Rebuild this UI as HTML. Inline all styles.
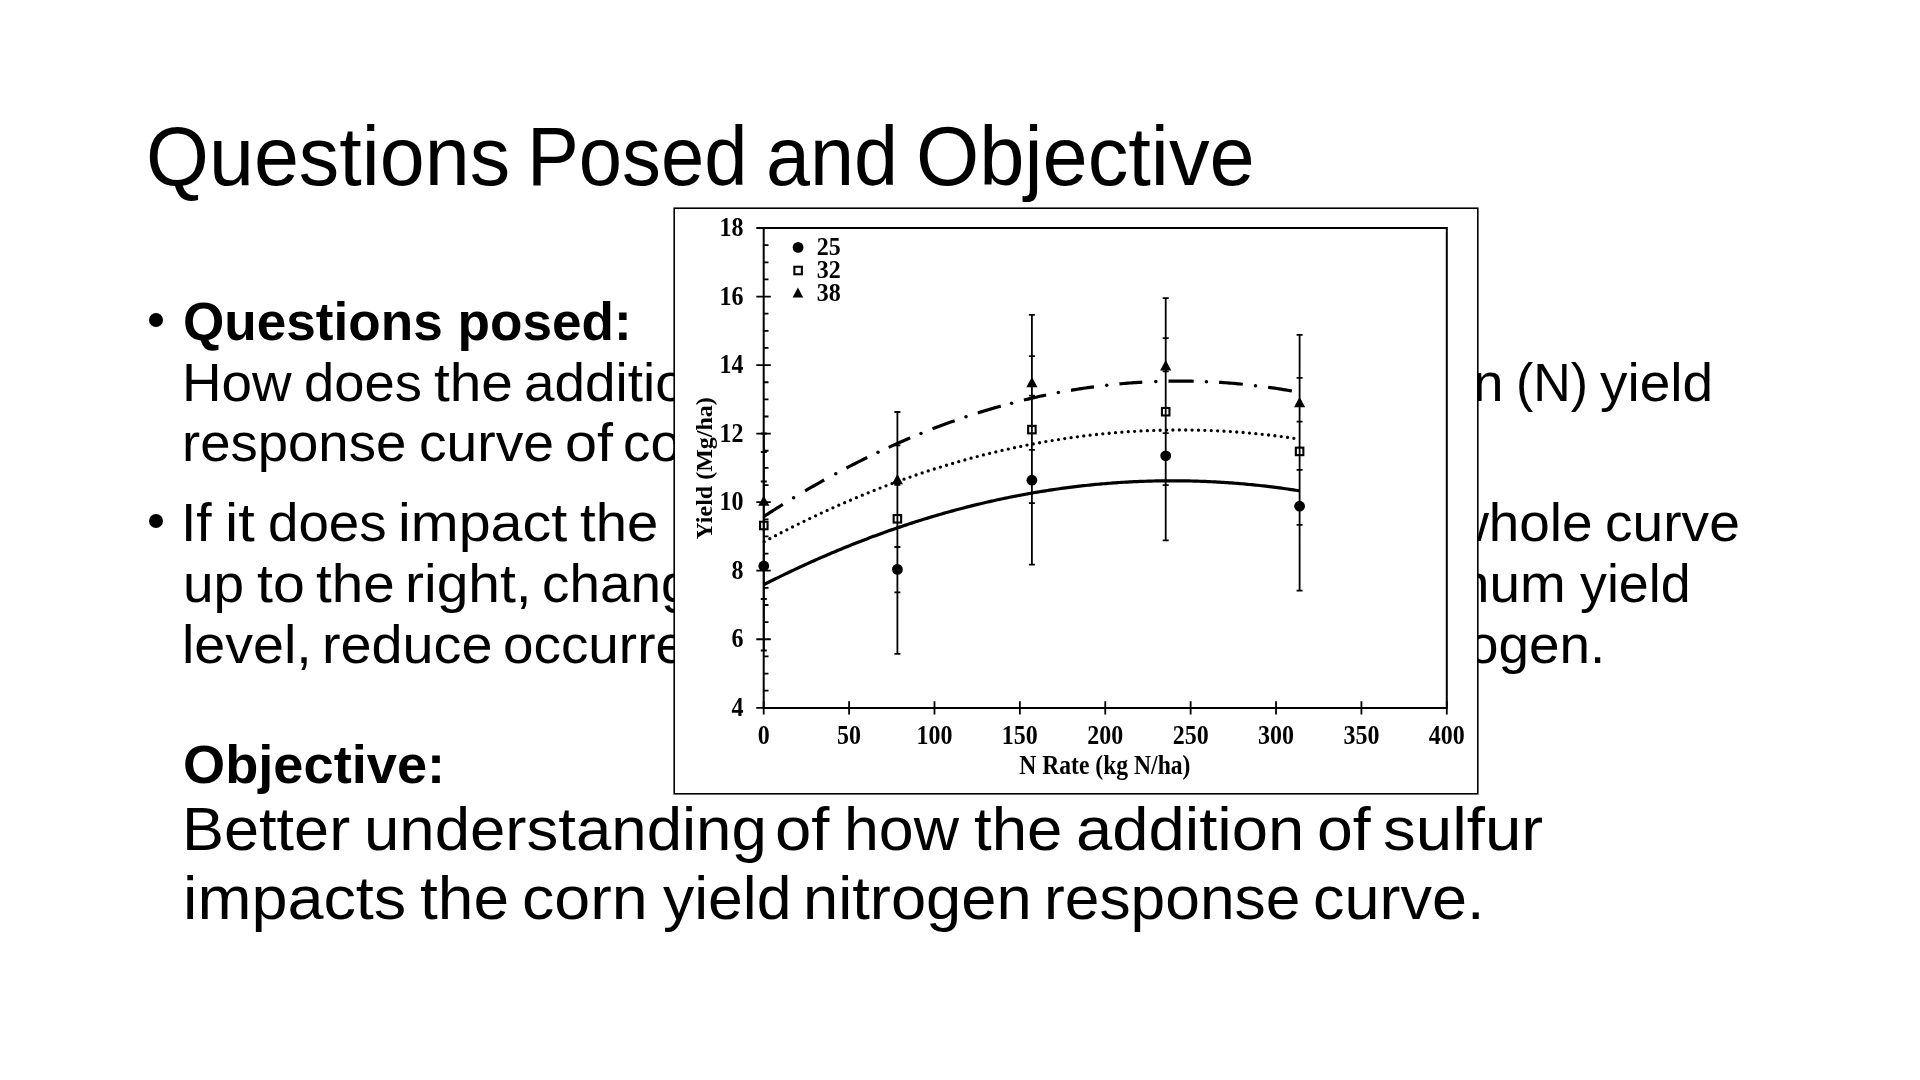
<!DOCTYPE html>
<html><head><meta charset="utf-8"><style>
html,body{margin:0;padding:0;background:#fff;}
body{width:1920px;height:1080px;position:relative;overflow:hidden;}
.t{position:absolute;white-space:pre;line-height:1;color:#000;font-family:"Liberation Sans",sans-serif;}
.b{position:absolute;width:14.2px;height:14.2px;border-radius:50%;background:#000;}
svg{position:absolute;left:0;top:0;will-change:transform;}
</style></head><body>
<div class="t" style="left:145.95px;transform-origin:0 0;top:113.99px;font-size:84px;font-weight:400;transform:scaleX(0.9628)">Questions</div>
<div class="t" style="left:527.32px;transform-origin:0 0;top:113.99px;font-size:84px;font-weight:400;transform:scaleX(0.9257)">Posed</div>
<div class="t" style="left:765.73px;transform-origin:0 0;top:113.99px;font-size:84px;font-weight:400;transform:scaleX(0.9427)">and</div>
<div class="t" style="left:916.13px;transform-origin:0 0;top:113.99px;font-size:84px;font-weight:400;transform:scaleX(0.9673)">Objective</div>
<div class="t" style="left:182.70px;transform-origin:0 0;top:295.14px;font-size:53px;font-weight:700;transform:scaleX(1.0023)">Questions posed:</div>
<div class="t" style="left:182.36px;transform-origin:0 0;top:355.94px;font-size:53px;font-weight:400;transform:scaleX(1.0343)">How</div>
<div class="t" style="left:304.25px;transform-origin:0 0;top:355.94px;font-size:53px;font-weight:400;transform:scaleX(1.0252)">does</div>
<div class="t" style="left:434.13px;transform-origin:0 0;top:355.94px;font-size:53px;font-weight:400;transform:scaleX(1.0714)">the</div>
<div class="t" style="left:524.33px;transform-origin:0 0;top:355.94px;font-size:53px;font-weight:400;transform:scaleX(1.0350)">addition</div>
<div class="t" style="right:416.05px;transform-origin:100% 0;top:355.94px;font-size:53px;font-weight:400;transform:scaleX(1.0350)">nitrogen</div>
<div class="t" style="left:1515.96px;transform-origin:0 0;top:355.94px;font-size:53px;font-weight:400;transform:scaleX(0.9791)">(N)</div>
<div class="t" style="left:1599.50px;transform-origin:0 0;top:355.94px;font-size:53px;font-weight:400;transform:scaleX(1.0377)">yield</div>
<div class="t" style="left:182.39px;transform-origin:0 0;top:416.44px;font-size:53px;font-weight:400;transform:scaleX(1.0283)">response</div>
<div class="t" style="left:418.82px;transform-origin:0 0;top:416.44px;font-size:53px;font-weight:400;transform:scaleX(1.0416)">curve</div>
<div class="t" style="left:564.53px;transform-origin:0 0;top:416.44px;font-size:53px;font-weight:400;transform:scaleX(1.0857)">of</div>
<div class="t" style="left:623.23px;transform-origin:0 0;top:416.44px;font-size:53px;font-weight:400;transform:scaleX(1.0350)">corn?</div>
<div class="t" style="left:181.28px;transform-origin:0 0;top:496.44px;font-size:53px;font-weight:400;transform:scaleX(1.0440)">If</div>
<div class="t" style="left:224.80px;transform-origin:0 0;top:496.44px;font-size:53px;font-weight:400;transform:scaleX(1.1200)">it</div>
<div class="t" style="left:267.74px;transform-origin:0 0;top:496.44px;font-size:53px;font-weight:400;transform:scaleX(1.0324)">does</div>
<div class="t" style="left:397.56px;transform-origin:0 0;top:496.44px;font-size:53px;font-weight:400;transform:scaleX(1.0842)">impact</div>
<div class="t" style="left:579.94px;transform-origin:0 0;top:496.44px;font-size:53px;font-weight:400;transform:scaleX(1.0614)">the</div>
<div class="t" style="right:327.13px;transform-origin:100% 0;top:496.44px;font-size:53px;font-weight:400;transform:scaleX(1.0350)">whole</div>
<div class="t" style="left:1604.92px;transform-origin:0 0;top:496.44px;font-size:53px;font-weight:400;transform:scaleX(1.0400)">curve</div>
<div class="t" style="left:183.39px;transform-origin:0 0;top:556.84px;font-size:53px;font-weight:400;transform:scaleX(1.0370)">up</div>
<div class="t" style="left:257.02px;transform-origin:0 0;top:556.84px;font-size:53px;font-weight:400;transform:scaleX(1.0805)">to</div>
<div class="t" style="left:316.43px;transform-origin:0 0;top:556.84px;font-size:53px;font-weight:400;transform:scaleX(1.0671)">the</div>
<div class="t" style="left:404.90px;transform-origin:0 0;top:556.84px;font-size:53px;font-weight:400;transform:scaleX(1.0752)">right,</div>
<div class="t" style="left:542.03px;transform-origin:0 0;top:556.84px;font-size:53px;font-weight:400;transform:scaleX(1.0350)">change</div>
<div class="t" style="right:354.18px;transform-origin:100% 0;top:556.84px;font-size:53px;font-weight:400;transform:scaleX(1.0350)">maximum</div>
<div class="t" style="left:1580.00px;transform-origin:0 0;top:556.84px;font-size:53px;font-weight:400;transform:scaleX(1.0142)">yield</div>
<div class="t" style="left:182.31px;transform-origin:0 0;top:617.64px;font-size:53px;font-weight:400;transform:scaleX(1.0487)">level,</div>
<div class="t" style="left:321.59px;transform-origin:0 0;top:617.64px;font-size:53px;font-weight:400;transform:scaleX(1.0519)">reduce</div>
<div class="t" style="left:503.43px;transform-origin:0 0;top:617.64px;font-size:53px;font-weight:400;transform:scaleX(1.0350)">occurrence</div>
<div class="t" style="right:314.85px;transform-origin:100% 0;top:617.64px;font-size:53px;font-weight:400;transform:scaleX(1.0350)">nitrogen.</div>
<div class="t" style="left:183.15px;transform-origin:0 0;top:738.04px;font-size:53px;font-weight:700;transform:scaleX(1.0229)">Objective:</div>
<div class="t" style="left:181.93px;transform-origin:0 0;top:798.76px;font-size:61px;font-weight:400;transform:scaleX(1.0331)">Better</div>
<div class="t" style="left:363.53px;transform-origin:0 0;top:798.76px;font-size:61px;font-weight:400;transform:scaleX(1.0417)">understanding</div>
<div class="t" style="left:775.19px;transform-origin:0 0;top:798.76px;font-size:61px;font-weight:400;transform:scaleX(1.0708)">of</div>
<div class="t" style="left:844.09px;transform-origin:0 0;top:798.76px;font-size:61px;font-weight:400;transform:scaleX(1.0278)">how</div>
<div class="t" style="left:973.96px;transform-origin:0 0;top:798.76px;font-size:61px;font-weight:400;transform:scaleX(1.0420)">the</div>
<div class="t" style="left:1075.99px;transform-origin:0 0;top:798.76px;font-size:61px;font-weight:400;transform:scaleX(1.0686)">addition</div>
<div class="t" style="left:1316.84px;transform-origin:0 0;top:798.76px;font-size:61px;font-weight:400;transform:scaleX(1.0542)">of</div>
<div class="t" style="left:1383.45px;transform-origin:0 0;top:798.76px;font-size:61px;font-weight:400;transform:scaleX(1.0733)">sulfur</div>
<div class="t" style="left:182.85px;transform-origin:0 0;top:867.86px;font-size:61px;font-weight:400;transform:scaleX(1.0623)">impacts</div>
<div class="t" style="left:419.75px;transform-origin:0 0;top:867.86px;font-size:61px;font-weight:400;transform:scaleX(1.0494)">the</div>
<div class="t" style="left:522.12px;transform-origin:0 0;top:867.86px;font-size:61px;font-weight:400;transform:scaleX(1.0589)">corn</div>
<div class="t" style="left:663.40px;transform-origin:0 0;top:867.86px;font-size:61px;font-weight:400;transform:scaleX(1.0240)">yield</div>
<div class="t" style="left:802.65px;transform-origin:0 0;top:867.86px;font-size:61px;font-weight:400;transform:scaleX(1.0373)">nitrogen</div>
<div class="t" style="left:1044.01px;transform-origin:0 0;top:867.86px;font-size:61px;font-weight:400;transform:scaleX(1.0217)">response</div>
<div class="t" style="left:1313.10px;transform-origin:0 0;top:867.86px;font-size:61px;font-weight:400;transform:scaleX(1.0323)">curve.</div>
<div class="b" style="left:149.30px;top:313.30px"></div><div class="b" style="left:149.30px;top:514.30px"></div>
<svg width="1920" height="1080" viewBox="0 0 1920 1080">
<rect x="674.2" y="208.2" width="803.6" height="585.6" fill="#fff" stroke="#000" stroke-width="1.6"/>
<path d="M763.7 228 H1446.8 V707.9 H763.7 Z" fill="none" stroke="#000" stroke-width="2"/>
<path d="M756.3 707.80 H770.8 M763.5 690.66 H768.5 M763.5 673.53 H768.5 M763.5 656.39 H768.5 M756.3 639.26 H770.8 M763.5 622.12 H768.5 M763.5 604.99 H768.5 M763.5 587.85 H768.5 M756.3 570.72 H770.8 M763.5 553.58 H768.5 M763.5 536.45 H768.5 M763.5 519.31 H768.5 M756.3 502.18 H770.8 M763.5 485.04 H768.5 M763.5 467.91 H768.5 M763.5 450.77 H768.5 M756.3 433.64 H770.8 M763.5 416.50 H768.5 M763.5 399.37 H768.5 M763.5 382.23 H768.5 M756.3 365.10 H770.8 M763.5 347.96 H768.5 M763.5 330.83 H768.5 M763.5 313.69 H768.5 M756.3 296.56 H770.8 M763.5 279.42 H768.5 M763.5 262.29 H768.5 M763.5 245.15 H768.5 M756.3 228.02 H770.8 M763.70 701.2 V714.4 M849.09 701.2 V714.4 M934.48 701.2 V714.4 M1019.86 701.2 V714.4 M1105.25 701.2 V714.4 M1190.64 701.2 V714.4 M1276.03 701.2 V714.4 M1361.41 701.2 V714.4 M1446.80 701.2 V714.4" fill="none" stroke="#000" stroke-width="1.8"/>
<g font-family="Liberation Serif" font-weight="700" font-size="24"><text transform="translate(743.60 715.80) scale(1.0 1.1)" text-anchor="end">4</text><text transform="translate(743.60 647.26) scale(1.0 1.1)" text-anchor="end">6</text><text transform="translate(743.60 578.72) scale(1.0 1.1)" text-anchor="end">8</text><text transform="translate(743.60 510.18) scale(1.0 1.1)" text-anchor="end">10</text><text transform="translate(743.60 441.64) scale(1.0 1.1)" text-anchor="end">12</text><text transform="translate(743.60 373.10) scale(1.0 1.1)" text-anchor="end">14</text><text transform="translate(743.60 304.56) scale(1.0 1.1)" text-anchor="end">16</text><text transform="translate(743.60 236.02) scale(1.0 1.1)" text-anchor="end">18</text><text transform="translate(763.70 743.50) scale(1.0 1.1)" text-anchor="middle">0</text><text transform="translate(849.09 743.50) scale(1.0 1.1)" text-anchor="middle">50</text><text transform="translate(934.48 743.50) scale(1.0 1.1)" text-anchor="middle">100</text><text transform="translate(1019.86 743.50) scale(1.0 1.1)" text-anchor="middle">150</text><text transform="translate(1105.25 743.50) scale(1.0 1.1)" text-anchor="middle">200</text><text transform="translate(1190.64 743.50) scale(1.0 1.1)" text-anchor="middle">250</text><text transform="translate(1276.03 743.50) scale(1.0 1.1)" text-anchor="middle">300</text><text transform="translate(1361.41 743.50) scale(1.0 1.1)" text-anchor="middle">350</text><text transform="translate(1446.80 743.50) scale(1.0 1.1)" text-anchor="middle">400</text><text transform="translate(1104.80 773.90) scale(0.985 1.1)" text-anchor="middle">N Rate (kg N/ha)</text><text transform="translate(711.7 468.4) rotate(-90)" text-anchor="middle">Yield (Mg/ha)</text><text transform="translate(816.80 254.90) scale(1.0 1.03)" text-anchor="start">25</text><text transform="translate(816.80 277.90) scale(1.0 1.03)" text-anchor="start">32</text><text transform="translate(816.80 300.80) scale(1.0 1.03)" text-anchor="start">38</text></g>
<path d="M763.80 481.50 V650.50 M760.80 481.50 H766.80 M760.80 650.50 H766.80 M763.80 452.00 V599.00 M760.80 452.00 H766.80 M760.80 599.00 H766.80 M763.80 433.50 V568.50 M760.80 433.50 H766.80 M760.80 568.50 H766.80 M897.40 484.90 V653.90 M894.40 484.90 H900.40 M894.40 653.90 H900.40 M897.40 445.30 V592.30 M894.40 445.30 H900.40 M894.40 592.30 H900.40 M897.40 412.00 V547.00 M894.40 412.00 H900.40 M894.40 547.00 H900.40 M1031.90 395.70 V564.70 M1028.90 395.70 H1034.90 M1028.90 564.70 H1034.90 M1031.90 356.10 V503.10 M1028.90 356.10 H1034.90 M1028.90 503.10 H1034.90 M1031.90 314.90 V449.90 M1028.90 314.90 H1034.90 M1028.90 449.90 H1034.90 M1165.70 371.30 V540.30 M1162.70 371.30 H1168.70 M1162.70 540.30 H1168.70 M1165.70 338.20 V485.20 M1162.70 338.20 H1168.70 M1162.70 485.20 H1168.70 M1165.70 298.10 V433.10 M1162.70 298.10 H1168.70 M1162.70 433.10 H1168.70 M1299.60 421.70 V590.70 M1296.60 421.70 H1302.60 M1296.60 590.70 H1302.60 M1299.60 377.90 V524.90 M1296.60 377.90 H1302.60 M1296.60 524.90 H1302.60 M1299.60 334.90 V469.90 M1296.60 334.90 H1302.60 M1296.60 469.90 H1302.60" fill="none" stroke="#000" stroke-width="1.8"/>
<path d="M763.50,584.82 L765.50,583.80 L767.50,582.79 L769.50,581.79 L771.50,580.79 L773.50,579.79 L775.50,578.80 L777.50,577.82 L779.50,576.84 L781.50,575.86 L783.50,574.89 L785.50,573.92 L787.50,572.96 L789.50,572.01 L791.51,571.06 L793.51,570.11 L795.51,569.17 L797.51,568.24 L799.51,567.31 L801.51,566.38 L803.51,565.46 L805.51,564.54 L807.51,563.63 L809.51,562.73 L811.51,561.83 L813.51,560.93 L815.51,560.04 L817.51,559.15 L819.51,558.27 L821.51,557.40 L823.51,556.53 L825.51,555.66 L827.51,554.80 L829.51,553.94 L831.51,553.09 L833.51,552.25 L835.51,551.41 L837.51,550.57 L839.51,549.74 L841.51,548.91 L843.51,548.09 L845.52,547.27 L847.52,546.46 L849.52,545.66 L851.52,544.86 L853.52,544.06 L855.52,543.27 L857.52,542.48 L859.52,541.70 L861.52,540.92 L863.52,540.15 L865.52,539.39 L867.52,538.63 L869.52,537.87 L871.52,537.12 L873.52,536.37 L875.52,535.63 L877.52,534.89 L879.52,534.16 L881.52,533.44 L883.52,532.71 L885.52,532.00 L887.52,531.29 L889.52,530.58 L891.52,529.88 L893.52,529.18 L895.52,528.49 L897.52,527.80 L899.53,527.12 L901.53,526.44 L903.53,525.77 L905.53,525.11 L907.53,524.44 L909.53,523.79 L911.53,523.13 L913.53,522.49 L915.53,521.85 L917.53,521.21 L919.53,520.58 L921.53,519.95 L923.53,519.33 L925.53,518.71 L927.53,518.10 L929.53,517.49 L931.53,516.89 L933.53,516.29 L935.53,515.70 L937.53,515.11 L939.53,514.53 L941.53,513.95 L943.53,513.38 L945.53,512.81 L947.53,512.25 L949.53,511.69 L951.54,511.14 L953.54,510.60 L955.54,510.05 L957.54,509.52 L959.54,508.98 L961.54,508.46 L963.54,507.93 L965.54,507.42 L967.54,506.90 L969.54,506.40 L971.54,505.89 L973.54,505.40 L975.54,504.90 L977.54,504.42 L979.54,503.93 L981.54,503.45 L983.54,502.98 L985.54,502.51 L987.54,502.05 L989.54,501.59 L991.54,501.14 L993.54,500.69 L995.54,500.25 L997.54,499.81 L999.54,499.38 L1001.54,498.95 L1003.54,498.53 L1005.55,498.11 L1007.55,497.70 L1009.55,497.29 L1011.55,496.89 L1013.55,496.49 L1015.55,496.10 L1017.55,495.71 L1019.55,495.33 L1021.55,494.95 L1023.55,494.57 L1025.55,494.21 L1027.55,493.84 L1029.55,493.48 L1031.55,493.13 L1033.55,492.78 L1035.55,492.44 L1037.55,492.10 L1039.55,491.77 L1041.55,491.44 L1043.55,491.12 L1045.55,490.80 L1047.55,490.49 L1049.55,490.18 L1051.55,489.87 L1053.55,489.58 L1055.55,489.28 L1057.55,488.99 L1059.56,488.71 L1061.56,488.43 L1063.56,488.16 L1065.56,487.89 L1067.56,487.63 L1069.56,487.37 L1071.56,487.11 L1073.56,486.86 L1075.56,486.62 L1077.56,486.38 L1079.56,486.15 L1081.56,485.92 L1083.56,485.70 L1085.56,485.48 L1087.56,485.26 L1089.56,485.05 L1091.56,484.85 L1093.56,484.65 L1095.56,484.46 L1097.56,484.27 L1099.56,484.08 L1101.56,483.91 L1103.56,483.73 L1105.56,483.56 L1107.56,483.40 L1109.56,483.24 L1111.56,483.09 L1113.57,482.94 L1115.57,482.79 L1117.57,482.65 L1119.57,482.52 L1121.57,482.39 L1123.57,482.27 L1125.57,482.15 L1127.57,482.03 L1129.57,481.92 L1131.57,481.82 L1133.57,481.72 L1135.57,481.63 L1137.57,481.54 L1139.57,481.45 L1141.57,481.37 L1143.57,481.30 L1145.57,481.23 L1147.57,481.16 L1149.57,481.10 L1151.57,481.05 L1153.57,481.00 L1155.57,480.96 L1157.57,480.92 L1159.57,480.88 L1161.57,480.85 L1163.57,480.83 L1165.57,480.81 L1167.58,480.79 L1169.58,480.78 L1171.58,480.78 L1173.58,480.78 L1175.58,480.78 L1177.58,480.79 L1179.58,480.81 L1181.58,480.83 L1183.58,480.85 L1185.58,480.88 L1187.58,480.92 L1189.58,480.96 L1191.58,481.00 L1193.58,481.05 L1195.58,481.11 L1197.58,481.17 L1199.58,481.23 L1201.58,481.30 L1203.58,481.38 L1205.58,481.46 L1207.58,481.54 L1209.58,481.63 L1211.58,481.73 L1213.58,481.83 L1215.58,481.93 L1217.58,482.04 L1219.59,482.16 L1221.59,482.28 L1223.59,482.40 L1225.59,482.53 L1227.59,482.67 L1229.59,482.81 L1231.59,482.95 L1233.59,483.10 L1235.59,483.25 L1237.59,483.41 L1239.59,483.58 L1241.59,483.75 L1243.59,483.92 L1245.59,484.10 L1247.59,484.29 L1249.59,484.48 L1251.59,484.67 L1253.59,484.87 L1255.59,485.07 L1257.59,485.28 L1259.59,485.50 L1261.59,485.72 L1263.59,485.94 L1265.59,486.17 L1267.59,486.40 L1269.59,486.64 L1271.59,486.89 L1273.60,487.14 L1275.60,487.39 L1277.60,487.65 L1279.60,487.91 L1281.60,488.18 L1283.60,488.46 L1285.60,488.74 L1287.60,489.02 L1289.60,489.31 L1291.60,489.60 L1293.60,489.90 L1295.60,490.21 L1297.60,490.52 L1299.60,490.83" fill="none" stroke="#000" stroke-width="3.2"/>
<path d="M764.20,541.67 L765.20,541.13 L766.20,540.59 L767.20,540.06 L768.21,539.53 L769.21,538.99 L770.21,538.46 L771.21,537.93 L772.21,537.41 L773.21,536.88 L774.21,536.35 L775.21,535.83 L776.22,535.31 L777.22,534.79 L778.22,534.27 L779.22,533.75 L780.22,533.23 L781.22,532.71 L782.22,532.20 L783.23,531.68 L784.23,531.17 L785.23,530.66 L786.23,530.15 L787.23,529.64 L788.23,529.14 L789.23,528.63 L790.23,528.12 L791.24,527.62 L792.24,527.12 L793.24,526.62 L794.24,526.12 L795.24,525.62 L796.24,525.12 L797.24,524.63 L798.24,524.13 L799.25,523.64 L800.25,523.15 L801.25,522.66 L802.25,522.17 L803.25,521.68 L804.25,521.20 L805.25,520.71 L806.26,520.23 L807.26,519.74 L808.26,519.26 L809.26,518.78 L810.26,518.30 L811.26,517.83 L812.26,517.35 L813.26,516.87 L814.27,516.40 L815.27,515.93 L816.27,515.46 L817.27,514.99 L818.27,514.52 L819.27,514.05 L820.27,513.59 L821.28,513.12 L822.28,512.66 L823.28,512.20 L824.28,511.74 L825.28,511.28 L826.28,510.82 L827.28,510.36 L828.28,509.91 L829.29,509.45 L830.29,509.00 L831.29,508.55 L832.29,508.10 L833.29,507.65 L834.29,507.20 L835.29,506.75 L836.30,506.31 L837.30,505.87 L838.30,505.42 L839.30,504.98 L840.30,504.54 L841.30,504.10 L842.30,503.67 L843.30,503.23 L844.31,502.79 L845.31,502.36 L846.31,501.93 L847.31,501.50 L848.31,501.07 L849.31,500.64 L850.31,500.21 L851.32,499.79 L852.32,499.36 L853.32,498.94 L854.32,498.52 L855.32,498.10 L856.32,497.68 L857.32,497.26 L858.32,496.84 L859.33,496.43 L860.33,496.01 L861.33,495.60 L862.33,495.19 L863.33,494.78 L864.33,494.37 L865.33,493.96 L866.33,493.56 L867.34,493.15 L868.34,492.75 L869.34,492.35 L870.34,491.94 L871.34,491.54 L872.34,491.15 L873.34,490.75 L874.35,490.35 L875.35,489.96 L876.35,489.56 L877.35,489.17 L878.35,488.78 L879.35,488.39 L880.35,488.00 L881.35,487.62 L882.36,487.23 L883.36,486.85 L884.36,486.46 L885.36,486.08 L886.36,485.70 L887.36,485.32 L888.36,484.94 L889.37,484.57 L890.37,484.19 L891.37,483.82 L892.37,483.45 L893.37,483.08 L894.37,482.70 L895.37,482.34 L896.37,481.97 L897.38,481.60 L898.38,481.24 L899.38,480.87 L900.38,480.51 L901.38,480.15 L902.38,479.79 L903.38,479.43 L904.39,479.08 L905.39,478.72 L906.39,478.36 L907.39,478.01 L908.39,477.66 L909.39,477.31 L910.39,476.96 L911.39,476.61 L912.40,476.26 L913.40,475.92 L914.40,475.57 L915.40,475.23 L916.40,474.89 L917.40,474.55 L918.40,474.21 L919.41,473.87 L920.41,473.54 L921.41,473.20 L922.41,472.87 L923.41,472.54 L924.41,472.20 L925.41,471.87 L926.41,471.55 L927.42,471.22 L928.42,470.89 L929.42,470.57 L930.42,470.24 L931.42,469.92 L932.42,469.60 L933.42,469.28 L934.42,468.96 L935.43,468.65 L936.43,468.33 L937.43,468.02 L938.43,467.70 L939.43,467.39 L940.43,467.08 L941.43,466.77 L942.44,466.46 L943.44,466.16 L944.44,465.85 L945.44,465.55 L946.44,465.24 L947.44,464.94 L948.44,464.64 L949.44,464.34 L950.45,464.05 L951.45,463.75 L952.45,463.45 L953.45,463.16 L954.45,462.87 L955.45,462.58 L956.45,462.29 L957.46,462.00 L958.46,461.71 L959.46,461.42 L960.46,461.14 L961.46,460.86 L962.46,460.57 L963.46,460.29 L964.46,460.01 L965.47,459.74 L966.47,459.46 L967.47,459.18 L968.47,458.91 L969.47,458.64 L970.47,458.36 L971.47,458.09 L972.48,457.83 L973.48,457.56 L974.48,457.29 L975.48,457.03 L976.48,456.76 L977.48,456.50 L978.48,456.24 L979.48,455.98 L980.49,455.72 L981.49,455.46 L982.49,455.20 L983.49,454.95 L984.49,454.70 L985.49,454.44 L986.49,454.19 L987.50,453.94 L988.50,453.69 L989.50,453.45 L990.50,453.20 L991.50,452.96 L992.50,452.71 L993.50,452.47 L994.50,452.23 L995.51,451.99 L996.51,451.75 L997.51,451.52 L998.51,451.28 L999.51,451.05 L1000.51,450.81 L1001.51,450.58 L1002.51,450.35 L1003.52,450.12 L1004.52,449.90 L1005.52,449.67 L1006.52,449.44 L1007.52,449.22 L1008.52,449.00 L1009.52,448.78 L1010.53,448.56 L1011.53,448.34 L1012.53,448.12 L1013.53,447.90 L1014.53,447.69 L1015.53,447.48 L1016.53,447.26 L1017.53,447.05 L1018.54,446.84 L1019.54,446.63 L1020.54,446.43 L1021.54,446.22 L1022.54,446.02 L1023.54,445.81 L1024.54,445.61 L1025.55,445.41 L1026.55,445.21 L1027.55,445.01 L1028.55,444.82 L1029.55,444.62 L1030.55,444.43 L1031.55,444.24 L1032.55,444.04 L1033.56,443.85 L1034.56,443.66 L1035.56,443.48 L1036.56,443.29 L1037.56,443.11 L1038.56,442.92 L1039.56,442.74 L1040.57,442.56 L1041.57,442.38 L1042.57,442.20 L1043.57,442.02 L1044.57,441.85 L1045.57,441.67 L1046.57,441.50 L1047.57,441.33 L1048.58,441.16 L1049.58,440.99 L1050.58,440.82 L1051.58,440.65 L1052.58,440.49 L1053.58,440.32 L1054.58,440.16 L1055.59,440.00 L1056.59,439.84 L1057.59,439.68 L1058.59,439.52 L1059.59,439.36 L1060.59,439.21 L1061.59,439.05 L1062.59,438.90 L1063.60,438.75 L1064.60,438.60 L1065.60,438.45 L1066.60,438.30 L1067.60,438.16 L1068.60,438.01 L1069.60,437.87 L1070.60,437.73 L1071.61,437.58 L1072.61,437.44 L1073.61,437.31 L1074.61,437.17 L1075.61,437.03 L1076.61,436.90 L1077.61,436.77 L1078.62,436.63 L1079.62,436.50 L1080.62,436.37 L1081.62,436.25 L1082.62,436.12 L1083.62,435.99 L1084.62,435.87 L1085.62,435.75 L1086.63,435.62 L1087.63,435.50 L1088.63,435.38 L1089.63,435.27 L1090.63,435.15 L1091.63,435.04 L1092.63,434.92 L1093.64,434.81 L1094.64,434.70 L1095.64,434.59 L1096.64,434.48 L1097.64,434.37 L1098.64,434.27 L1099.64,434.16 L1100.64,434.06 L1101.65,433.95 L1102.65,433.85 L1103.65,433.75 L1104.65,433.66 L1105.65,433.56 L1106.65,433.46 L1107.65,433.37 L1108.66,433.28 L1109.66,433.18 L1110.66,433.09 L1111.66,433.00 L1112.66,432.92 L1113.66,432.83 L1114.66,432.74 L1115.66,432.66 L1116.67,432.58 L1117.67,432.50 L1118.67,432.41 L1119.67,432.34 L1120.67,432.26 L1121.67,432.18 L1122.67,432.11 L1123.68,432.03 L1124.68,431.96 L1125.68,431.89 L1126.68,431.82 L1127.68,431.75 L1128.68,431.68 L1129.68,431.62 L1130.68,431.55 L1131.69,431.49 L1132.69,431.43 L1133.69,431.37 L1134.69,431.31 L1135.69,431.25 L1136.69,431.19 L1137.69,431.14 L1138.69,431.08 L1139.70,431.03 L1140.70,430.98 L1141.70,430.93 L1142.70,430.88 L1143.70,430.83 L1144.70,430.78 L1145.70,430.74 L1146.71,430.69 L1147.71,430.65 L1148.71,430.61 L1149.71,430.57 L1150.71,430.53 L1151.71,430.49 L1152.71,430.46 L1153.71,430.42 L1154.72,430.39 L1155.72,430.36 L1156.72,430.33 L1157.72,430.30 L1158.72,430.27 L1159.72,430.24 L1160.72,430.21 L1161.73,430.19 L1162.73,430.17 L1163.73,430.14 L1164.73,430.12 L1165.73,430.10 L1166.73,430.09 L1167.73,430.07 L1168.73,430.05 L1169.74,430.04 L1170.74,430.03 L1171.74,430.01 L1172.74,430.00 L1173.74,430.00 L1174.74,429.99 L1175.74,429.98 L1176.75,429.98 L1177.75,429.97 L1178.75,429.97 L1179.75,429.97 L1180.75,429.97 L1181.75,429.97 L1182.75,429.97 L1183.75,429.98 L1184.76,429.98 L1185.76,429.99 L1186.76,430.00 L1187.76,430.00 L1188.76,430.01 L1189.76,430.03 L1190.76,430.04 L1191.77,430.05 L1192.77,430.07 L1193.77,430.09 L1194.77,430.10 L1195.77,430.12 L1196.77,430.14 L1197.77,430.17 L1198.77,430.19 L1199.78,430.21 L1200.78,430.24 L1201.78,430.27 L1202.78,430.30 L1203.78,430.33 L1204.78,430.36 L1205.78,430.39 L1206.78,430.42 L1207.79,430.46 L1208.79,430.49 L1209.79,430.53 L1210.79,430.57 L1211.79,430.61 L1212.79,430.65 L1213.79,430.69 L1214.80,430.74 L1215.80,430.78 L1216.80,430.83 L1217.80,430.88 L1218.80,430.93 L1219.80,430.98 L1220.80,431.03 L1221.80,431.08 L1222.81,431.14 L1223.81,431.19 L1224.81,431.25 L1225.81,431.31 L1226.81,431.37 L1227.81,431.43 L1228.81,431.49 L1229.82,431.55 L1230.82,431.62 L1231.82,431.68 L1232.82,431.75 L1233.82,431.82 L1234.82,431.89 L1235.82,431.96 L1236.82,432.03 L1237.83,432.11 L1238.83,432.18 L1239.83,432.26 L1240.83,432.34 L1241.83,432.42 L1242.83,432.50 L1243.83,432.58 L1244.84,432.66 L1245.84,432.74 L1246.84,432.83 L1247.84,432.92 L1248.84,433.00 L1249.84,433.09 L1250.84,433.18 L1251.84,433.28 L1252.85,433.37 L1253.85,433.46 L1254.85,433.56 L1255.85,433.66 L1256.85,433.75 L1257.85,433.85 L1258.85,433.96 L1259.86,434.06 L1260.86,434.16 L1261.86,434.27 L1262.86,434.37 L1263.86,434.48 L1264.86,434.59 L1265.86,434.70 L1266.86,434.81 L1267.87,434.92 L1268.87,435.04 L1269.87,435.15 L1270.87,435.27 L1271.87,435.39 L1272.87,435.50 L1273.87,435.62 L1274.87,435.75 L1275.88,435.87 L1276.88,435.99 L1277.88,436.12 L1278.88,436.25 L1279.88,436.37 L1280.88,436.50 L1281.88,436.63 L1282.89,436.77 L1283.89,436.90 L1284.89,437.03 L1285.89,437.17 L1286.89,437.31 L1287.89,437.45 L1288.89,437.59 L1289.89,437.73 L1290.90,437.87 L1291.90,438.01 L1292.90,438.16 L1293.90,438.30" fill="none" stroke="#000" stroke-width="3.3" stroke-linecap="round" stroke-dasharray="0 6.387"/>
<path d="M763.70,516.58 L765.82,515.20 L767.94,513.83 L770.07,512.46 L772.19,511.10 L774.31,509.75 L776.43,508.41 L778.56,507.07 L780.68,505.74 L782.80,504.42 M805.10,490.94 L807.22,489.69 L809.34,488.46 L811.47,487.23 L813.59,486.01 L815.71,484.79 L817.83,483.59 L819.96,482.39 L822.08,481.20 L824.20,480.01 M846.50,467.98 L848.57,466.90 L850.64,465.83 L852.71,464.77 L854.78,463.71 L856.85,462.66 L858.92,461.61 L860.99,460.58 L863.06,459.55 L865.13,458.52 L867.20,457.51 M888.70,447.34 L890.85,446.37 L893.00,445.40 L895.15,444.43 L897.30,443.48 L899.45,442.53 L901.60,441.59 L903.75,440.66 L905.90,439.73 L908.05,438.81 L910.20,437.90 M932.50,428.88 L934.52,428.10 L936.54,427.33 L938.55,426.56 L940.57,425.80 L942.59,425.05 L944.61,424.31 L946.63,423.57 L948.65,422.83 L950.66,422.11 L952.68,421.38 L954.70,420.67 M977.80,412.95 L979.89,412.29 L981.98,411.64 L984.07,411.00 L986.16,410.36 L988.25,409.73 L990.35,409.11 L992.44,408.49 L994.53,407.88 L996.62,407.28 L998.71,406.68 L1000.80,406.09 M1023.90,400.04 L1025.92,399.55 L1027.94,399.07 L1029.95,398.59 L1031.97,398.12 L1033.99,397.66 L1036.01,397.20 L1038.03,396.75 L1040.05,396.31 L1042.06,395.87 L1044.08,395.44 L1046.10,395.02 M1071.00,390.30 L1073.09,389.95 L1075.18,389.60 L1077.27,389.26 L1079.36,388.93 L1081.45,388.61 L1083.55,388.29 L1085.64,387.98 L1087.73,387.67 L1089.82,387.38 L1091.91,387.09 L1094.00,386.80 M1119.40,383.91 L1121.48,383.72 L1123.56,383.53 L1125.65,383.35 L1127.73,383.18 L1129.81,383.01 L1131.89,382.86 L1133.97,382.70 L1136.05,382.56 L1138.14,382.42 L1140.22,382.29 L1142.30,382.17 M1168.50,381.18 L1170.60,381.15 L1172.70,381.12 L1174.80,381.11 L1176.90,381.09 L1179.00,381.09 L1181.10,381.09 L1183.20,381.10 L1185.30,381.12 L1187.40,381.14 L1189.50,381.17 L1191.60,381.21 L1193.70,381.25 M1219.10,382.33 L1221.25,382.47 L1223.41,382.61 L1225.56,382.76 L1227.72,382.92 L1229.87,383.09 L1232.03,383.26 L1234.18,383.45 L1236.34,383.63 L1238.49,383.83 L1240.65,384.03 L1242.80,384.24 M1268.10,387.26 L1270.26,387.57 L1272.43,387.88 L1274.59,388.20 L1276.75,388.53 L1278.92,388.86 L1281.08,389.20 L1283.25,389.55 L1285.41,389.91 L1287.57,390.27 L1289.74,390.64 L1291.90,391.02" fill="none" stroke="#000" stroke-width="3.2"/>
<g fill="#000"><circle cx="793.60" cy="497.79" r="1.75"/><circle cx="835.80" cy="473.65" r="1.75"/><circle cx="878.00" cy="452.31" r="1.75"/><circle cx="921.00" cy="433.44" r="1.75"/><circle cx="966.00" cy="416.79" r="1.75"/><circle cx="1011.60" cy="403.16" r="1.75"/><circle cx="1058.30" cy="392.58" r="1.75"/><circle cx="1106.70" cy="385.23" r="1.75"/><circle cx="1155.80" cy="381.52" r="1.75"/><circle cx="1206.40" cy="381.66" r="1.75"/><circle cx="1255.50" cy="385.64" r="1.75"/></g>
<g fill="#000"><circle cx="763.80" cy="566.00" r="5.4"/><rect x="760.05" y="521.75" width="7.5" height="7.5" fill="none" stroke="#000" stroke-width="2.1"/><path d="M763.80 495.50 L769.40 505.80 L758.20 505.80 Z"/><circle cx="897.40" cy="569.40" r="5.4"/><rect x="893.65" y="515.05" width="7.5" height="7.5" fill="none" stroke="#000" stroke-width="2.1"/><path d="M897.40 474.00 L903.00 484.30 L891.80 484.30 Z"/><circle cx="1031.90" cy="480.20" r="5.4"/><rect x="1028.15" y="425.85" width="7.5" height="7.5" fill="none" stroke="#000" stroke-width="2.1"/><path d="M1031.90 376.90 L1037.50 387.20 L1026.30 387.20 Z"/><circle cx="1165.70" cy="455.80" r="5.4"/><rect x="1161.95" y="407.95" width="7.5" height="7.5" fill="none" stroke="#000" stroke-width="2.1"/><path d="M1165.70 360.10 L1171.30 370.40 L1160.10 370.40 Z"/><circle cx="1299.60" cy="506.20" r="5.4"/><rect x="1295.85" y="447.65" width="7.5" height="7.5" fill="none" stroke="#000" stroke-width="2.1"/><path d="M1299.60 396.90 L1305.20 407.20 L1294.00 407.20 Z"/><circle cx="798.1" cy="247.4" r="5.4"/><rect x="794.35" y="266.75" width="7.5" height="7.5" fill="none" stroke="#000" stroke-width="2.1"/><path d="M797.9 287.6 L803.2 297.4 L792.6 297.4 Z"/></g>
</svg>
</body></html>
